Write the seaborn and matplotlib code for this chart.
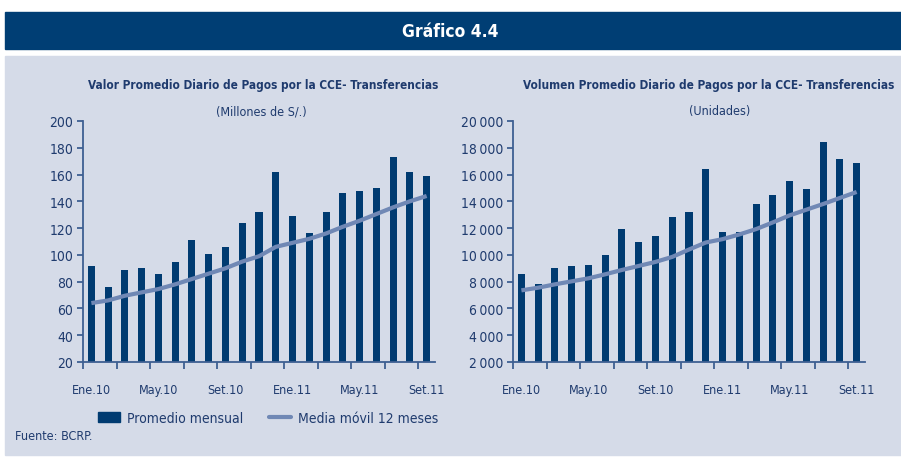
import numpy as np
import pandas as pd
import matplotlib
matplotlib.use("Agg")
import matplotlib.pyplot as plt
from matplotlib.patches import Rectangle, Patch
from matplotlib.lines import Line2D
from matplotlib.ticker import FuncFormatter
import seaborn as sns

# Meses (Ene.10 - Set.11)
meses = ["Ene.10", "Feb.10", "Mar.10", "Abr.10", "May.10", "Jun.10", "Jul.10",
         "Ago.10", "Set.10", "Oct.10", "Nov.10", "Dic.10", "Ene.11", "Feb.11",
         "Mar.11", "Abr.11", "May.11", "Jun.11", "Jul.11", "Ago.11", "Set.11"]

# Valor promedio diario (millones de S/.)
valor_mensual = [92, 76, 89, 90, 86, 95, 111, 101, 106, 124, 132, 162, 129, 116,
                 132, 146, 148, 150, 173, 162, 159]
valor_media = [64, 66, 69.5, 72, 74.5, 78, 82, 86, 90, 95, 99, 106, 109, 112,
               116, 121, 125.5, 130.5, 135.5, 140, 144]

# Volumen promedio diario (unidades)
volumen_mensual = [8550, 7850, 9000, 9200, 9250, 10000, 11900, 10950, 11400,
                   12800, 13200, 16400, 11700, 11700, 13800, 14500, 15500,
                   14900, 18400, 17150, 16850]
volumen_media = [7350, 7550, 7800, 8025, 8250, 8550, 8875, 9175, 9475, 9850,
                 10400, 10925, 11175, 11525, 11925, 12425, 12950, 13375, 13800,
                 14250, 14700]

etiquetas_x = ["Ene.10", "May.10", "Set.10", "Ene.11", "May.11", "Set.11"]

NAVY = "#003B71"
LINE = "#7088B5"
PANEL = "#D5DBE8"
TEXT = "#1F3B6E"
SPINE = "#3E5F92"

sns.set_theme(style="white")
plt.rcParams["font.family"] = ["DejaVu Sans"]
plt.rcParams["font.stretch"] = "condensed"

fig = plt.figure(figsize=(9.01, 4.64), dpi=100)
W, H = 901, 464


def fx(px):
    return px / W


def fy(py):
    return 1 - py / H


# Fondo del panel y barra de título
fig.patches.append(Rectangle((fx(5), fy(456)), 1 - fx(5), fy(57) - fy(456),
                             transform=fig.transFigure, color=PANEL, zorder=-10))
fig.patches.append(Rectangle((fx(5), fy(50)), 1 - fx(5), fy(13) - fy(50),
                             transform=fig.transFigure, color="#003E74", zorder=-10))
fig.text(0.5, fy(32), "Gráfico 4.4", color="white", fontsize=12.5,
         fontweight="bold", ha="center", va="center")

df = pd.DataFrame({"mes": meses, "valor": valor_mensual, "volumen": volumen_mensual})
n = len(meses)


def panel(rect, col, media, ylim, step, fmt):
    ax = fig.add_axes(rect, zorder=5)
    ax.set_facecolor("none")
    sns.barplot(data=df, x="mes", y=col, order=meses, color=NAVY, width=0.42,
                saturation=1, linewidth=0, edgecolor="none", ax=ax)
    sns.lineplot(x=np.arange(n), y=media, color=LINE, linewidth=3.0, ax=ax,
                 solid_capstyle="butt")
    ax.set_xlim(-0.5, n - 0.5)
    ax.set_ylim(*ylim)
    ax.set_yticks(np.arange(ylim[0], ylim[1] + step / 2, step))
    ax.yaxis.set_major_formatter(FuncFormatter(fmt))
    ax.set_xticks(np.arange(-0.5, n - 0.5, 2))
    ax.set_xticklabels([])
    ax.set_xticks(np.arange(0, n, 4), minor=True)
    ax.set_xticklabels(etiquetas_x, minor=True)
    ax.tick_params(axis="x", which="major", length=5, width=1.3, color=SPINE,
                   direction="out", bottom=True)
    ax.tick_params(axis="x", which="minor", length=0, pad=15, labelsize=9,
                   labelcolor=TEXT)
    ax.tick_params(axis="y", length=4, width=1.3, color=SPINE, direction="out",
                   left=True, labelsize=10, labelcolor=TEXT, pad=3)
    ax.set_xlabel("")
    ax.set_ylabel("")
    for s in ["top", "right"]:
        ax.spines[s].set_visible(False)
    for s in ["left", "bottom"]:
        ax.spines[s].set_color(SPINE)
        ax.spines[s].set_linewidth(1.3)
    ax.grid(False)
    return ax


panel([fx(83), fy(363), fx(435) - fx(83), fy(122) - fy(363)], "valor",
      valor_media, (20, 200), 20, lambda v, p: f"{int(v)}")
panel([fx(513), fy(363), fx(865) - fx(513), fy(122) - fy(363)], "volumen",
      volumen_media, (2000, 20000), 2000,
      lambda v, p: f"{int(v):,}".replace(",", "\u2009"))

fig.text(fx(263), fy(85), "Valor Promedio Diario de Pagos por la CCE- Transferencias",
         color=TEXT, fontsize=8.5, fontweight="bold", ha="center", va="center")
fig.text(fx(261), fy(112), "(Millones de S/.)", color=TEXT, fontsize=9,
         ha="center", va="center")
fig.text(fx(709), fy(85), "Volumen Promedio Diario de Pagos por la CCE- Transferencias",
         color=TEXT, fontsize=8.5, fontweight="bold", ha="center", va="center")
fig.text(fx(720), fy(112), "(Unidades)", color=TEXT, fontsize=9,
         ha="center", va="center")

handles = [Patch(facecolor=NAVY, edgecolor=NAVY, label="Promedio mensual"),
           Line2D([0], [0], color=LINE, linewidth=3.0, label="Media móvil 12 meses")]
leg = fig.legend(handles=handles, loc="center", bbox_to_anchor=(fx(268), fy(419)),
                 ncol=2, frameon=False, fontsize=10, handlelength=1.6,
                 handleheight=0.8, columnspacing=1.8, handletextpad=0.5)
for t in leg.get_texts():
    t.set_color(TEXT)

fig.text(fx(15), fy(437), "Fuente: BCRP.", color=TEXT, fontsize=9,
         ha="left", va="center")

fig.savefig("out.png", dpi=100)
